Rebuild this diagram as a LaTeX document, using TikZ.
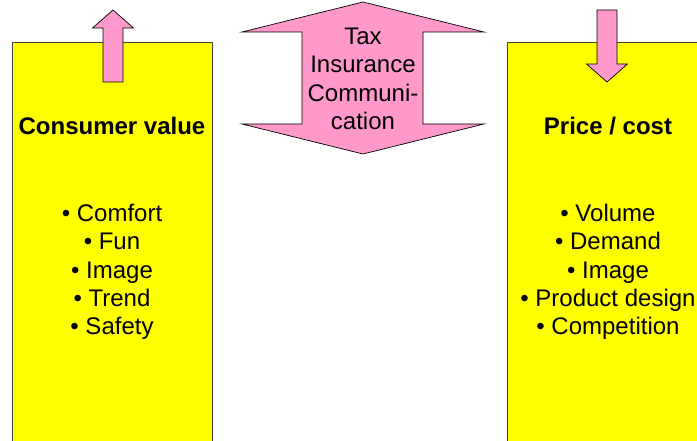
\documentclass[tikz,border=0pt]{standalone}
\usepackage{fontspec}
\setmainfont{Liberation Sans}
\definecolor{boxyellow}{HTML}{FFFF00}
\definecolor{arrowpink}{HTML}{FF99CC}
\definecolor{rimgray}{HTML}{404040}
\tikzset{
  panel/.style={draw=rimgray, line width=0.9pt, fill=boxyellow},
  pinkarrow/.style={draw=black, line width=0.7pt, fill=arrowpink, line join=miter},
  txt/.style={anchor=base, inner sep=0pt, font=\fontsize{24}{28.3}\selectfont},
  heading/.style={txt, font=\fontsize{24}{28.3}\selectfont\bfseries}
}

\begin{document}
\begin{tikzpicture}[x=1pt, y=-1pt]
    \useasboundingbox (0,0) rectangle (697,441);

    % yellow panels
    \draw[panel] (12,42) rectangle (212,450);
    \draw[panel] (507,42) rectangle (715,450);

    % arrows
    \draw[pinkarrow] (103,82) -- (103,28) -- (92.5,28) -- (113,10)
                     -- (133.5,28) -- (123,28) -- (123,82) -- cycle;
    \draw[pinkarrow] (597,10) -- (617,10) -- (617,64) -- (627.5,64)
                     -- (607,82) -- (586.5,64) -- (597,64) -- cycle;
    \draw[pinkarrow] (302,124) -- (302,32) -- (242,32) -- (363,2)
                     -- (484,32) -- (423,32) -- (423,124) -- (484,124)
                     -- (363,154) -- (242,124) -- cycle;

    % texts
    \foreach \t [count=\i] in {Tax, Insurance, Communi-, cation}
      \node[txt] (mid\i) at (363,16.2+28.3*\i) {\t};

    \node[heading] (cv) at (112,135) {Consumer value};
    \node[heading] (pc) at (608,135) {Price / cost};

    \foreach \t [count=\i] in {Comfort, Fun, Image, Trend, Safety}
      \node[txt] (cv\i) at (112,193.4+28.3*\i) {\textbullet\ \t};
    \foreach \t [count=\i] in {Volume, Demand, Image, Product design, Competition}
      \node[txt] (pc\i) at (608,193.4+28.3*\i) {\textbullet\ \t};
\end{tikzpicture}
\end{document}
